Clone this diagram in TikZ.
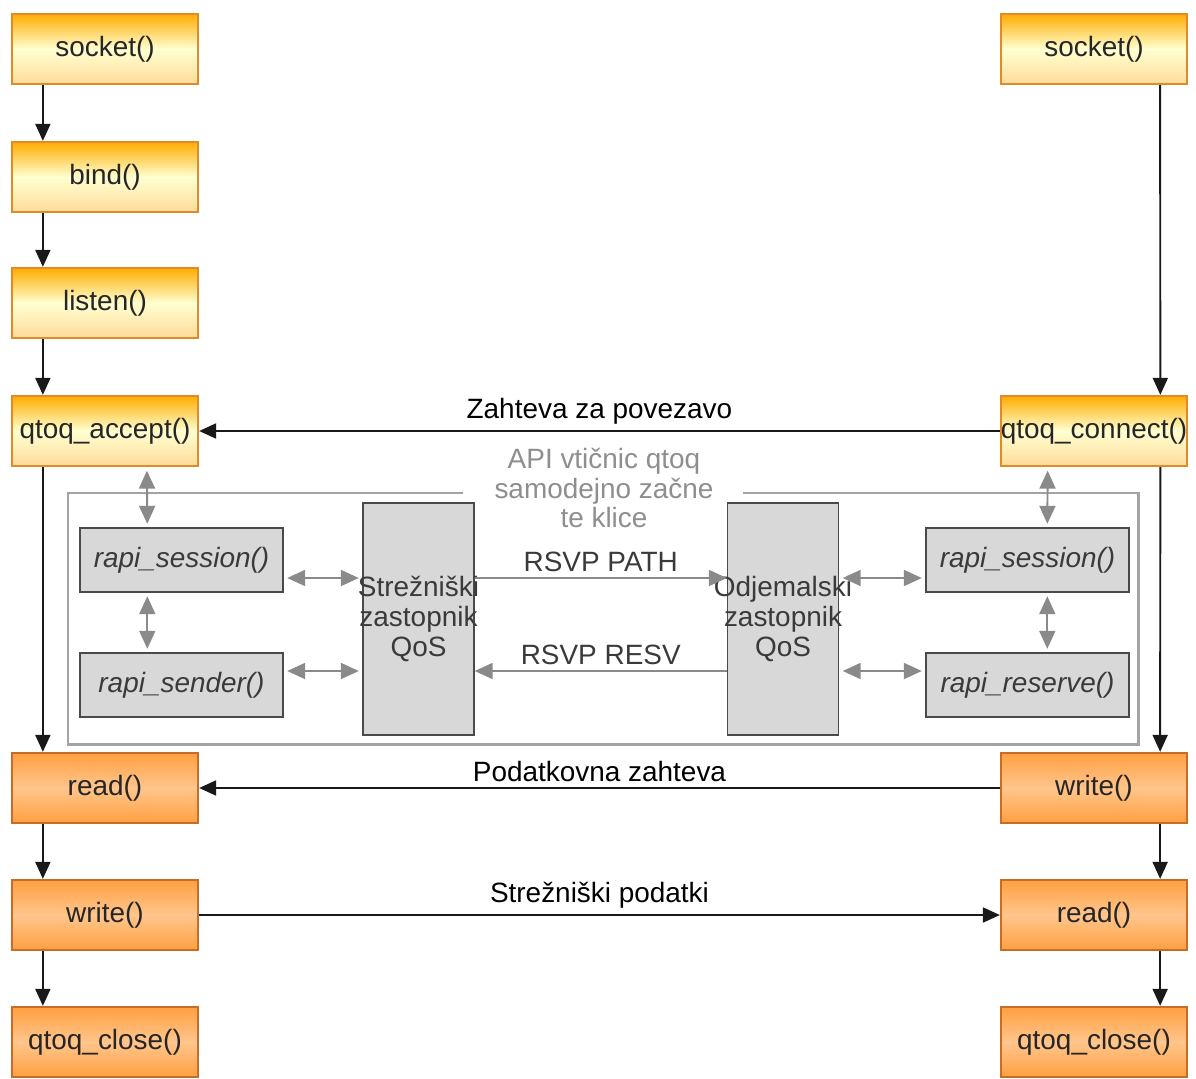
\documentclass[tikz,border=0pt]{standalone}
\usepackage{fontspec}
\setmainfont{Liberation Sans}
\usepackage{tikz}
\usetikzlibrary{arrows.meta}
\definecolor{bordogiallo}{HTML}{DE8C2A}
\definecolor{bordoarancio}{HTML}{C56E2A}
\definecolor{grigiobox}{HTML}{D8D8D8}
\definecolor{grigiobordo}{HTML}{4A4A4A}
\definecolor{grigiotesto}{HTML}{3A3A3A}
\definecolor{grigiofreccia}{HTML}{8A8A8A}
\definecolor{grigiocornice}{HTML}{A3A3A3}
\definecolor{grigiodida}{HTML}{8E8E8E}
\newcommand{\grande}{\fontsize{15.9}{17}\selectfont}

\begin{document}
\begin{tikzpicture}[x=0.02cm,y=-0.02cm,font=\grande]
\tikzstyle{freccia} = [-{Triangle[length=0.34cm,width=0.3cm]}, line width=1.1pt, draw=black!90]
\tikzstyle{grigia} = [-{Triangle[length=0.36cm,width=0.32cm]}, line width=1.1pt, draw=grigiofreccia]
\tikzstyle{doppia} = [grigia, {Triangle[length=0.36cm,width=0.32cm]}-{Triangle[length=0.36cm,width=0.32cm]}, shorten <=2pt, shorten >=2pt]
\tikzstyle{gialla} = [draw=bordogiallo, line width=1.3pt, top color=orange!65!yellow, bottom color=yellow!30!orange!40, middle color=yellow!18, minimum width=3.72cm, minimum height=1.4cm, inner sep=0pt, text=black!85]
\tikzstyle{arancio} = [draw=bordoarancio, line width=1.3pt, top color=orange!75, bottom color=orange!75, middle color=orange!45, minimum width=3.72cm, minimum height=1.4cm, inner sep=0pt, text=black!85]
\tikzstyle{grigio} = [draw=grigiobordo, line width=0.8pt, fill=grigiobox, minimum width=4.06cm, minimum height=1.28cm, inner sep=0pt, text=grigiotesto, font=\grande\itshape]
\tikzstyle{agente} = [grigio, minimum width=2.22cm, minimum height=4.64cm, font=\grande, align=center]
\useasboundingbox (0,0) rectangle (1196,1078);
% server column
\node[gialla] (l1) at (105,49) {socket()};
\node[gialla] (l2) at (105,177) {bind()};
\node[gialla] (l3) at (105,303) {listen()};
\node[gialla] (l4) at (105,431) {qtoq\_accept()};
\node[arancio] (l5) at (105,788) {read()};
\node[arancio] (l6) at (105,915) {write()};
\node[arancio] (l7) at (105,1042) {qtoq\_close()};
% client column
\node[gialla] (r1) at (1094,49) {socket()};
\node[gialla] (r2) at (1094,431) {qtoq\_connect()};
\node[arancio] (r3) at (1094,788) {write()};
\node[arancio] (r4) at (1094,915) {read()};
\node[arancio] (r5) at (1094,1042) {qtoq\_close()};
% QoS part
\draw[grigiocornice, line width=1.7pt] (463,493) -- (68,493) -- (68,744) -- (1138,744) -- (1138,493) -- (743,493);
\node[text=grigiodida, align=center] (t1) at (604,488) {API vtičnic qtoq\\samodejno začne\\te klice};
\node[grigio] (g1) at (181.5,560) {rapi\_session()};
\node[grigio] (g2) at (181.5,685) {rapi\_sender()};
\node[agente] (q1) at (418.5,619) {\makebox[0pt]{Strežniški}\\\makebox[0pt]{zastopnik}\\QoS};
\node[agente] (q2) at (783,619) {\makebox[0pt]{Odjemalski}\\\makebox[0pt]{zastopnik}\\QoS};
\node[grigio] (g3) at (1027.5,560) {rapi\_session()};
\node[grigio] (g4) at (1027.5,685) {rapi\_reserve()};
% black flow
\draw[freccia] ([xshift=0.64cm]l1.south west) -- ([xshift=0.64cm]l2.north west);
\draw[freccia] ([xshift=0.64cm]l2.south west) -- ([xshift=0.64cm]l3.north west);
\draw[freccia] ([xshift=0.64cm]l3.south west) -- ([xshift=0.64cm]l4.north west);
\draw[freccia] ([xshift=0.64cm]l4.south west) -- ([xshift=0.64cm]l5.north west);
\draw[freccia] ([xshift=0.64cm]l5.south west) -- ([xshift=0.64cm]l6.north west);
\draw[freccia] ([xshift=0.64cm]l6.south west) -- ([xshift=0.64cm]l7.north west);
\draw[freccia] ([xshift=-0.56cm]r1.south east) -- ([xshift=-0.56cm]r2.north east);
\draw[freccia] ([xshift=-0.56cm]r2.south east) -- ([xshift=-0.56cm]r3.north east);
\draw[freccia] ([xshift=-0.56cm]r3.south east) -- ([xshift=-0.56cm]r4.north east);
\draw[freccia] ([xshift=-0.56cm]r4.south east) -- ([xshift=-0.56cm]r5.north east);
\draw[freccia] (r2.west) -- (l4.east) node[midway, above, inner sep=3pt] {Zahteva za povezavo};
\draw[freccia] (r3.west) -- (l5.east) node[midway, above, inner sep=3pt] {Podatkovna zahteva};
\draw[freccia] (l6.east) -- (r4.west) node[midway, above, inner sep=3pt] {Strežniški podatki};
% grey calls
\draw[doppia] ([xshift=2.72cm]l4.south west) -- ([xshift=1.36cm]g1.north west);
\draw[doppia] ([xshift=1.36cm]g1.south west) -- ([xshift=1.36cm]g2.north west);
\draw[doppia] ([yshift=-0.36cm]g1.east) -- ([yshift=-0.36cm]g1.east -| q1.west);
\draw[doppia] ([yshift=0.28cm]g2.east) -- ([yshift=0.28cm]g2.east -| q1.west);
\draw[grigia] ([yshift=-0.36cm]g1.east -| q1.east) -- ([yshift=-0.36cm]g1.east -| q2.west) node[midway, above, text=grigiotesto, inner sep=3pt] {RSVP PATH};
\draw[grigia] ([yshift=0.28cm]g2.east -| q2.west) -- ([yshift=0.28cm]g2.east -| q1.east) node[midway, above, text=grigiotesto, inner sep=3pt] {RSVP RESV};
\draw[doppia] ([yshift=-0.36cm]g3.west -| q2.east) -- ([yshift=-0.36cm]g3.west);
\draw[doppia] ([yshift=0.28cm]g4.west -| q2.east) -- ([yshift=0.28cm]g4.west);
\draw[doppia] ([xshift=0.96cm]r2.south west) -- ([xshift=2.44cm]g3.north west);
\draw[doppia] ([xshift=2.44cm]g3.south west) -- ([xshift=2.44cm]g4.north west);
\end{tikzpicture}
\end{document}
